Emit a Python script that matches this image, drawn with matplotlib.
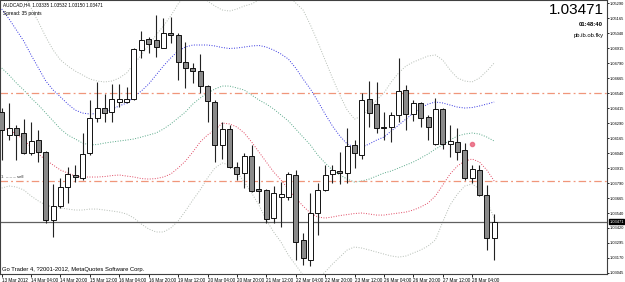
import matplotlib
matplotlib.use("Agg")
import matplotlib.pyplot as plt
import numpy as np

plt.rcParams['font.family'] = ['Liberation Sans', 'DejaVu Sans']

# AUDCAD H4 candles (open, high, low, close)
opens = [1.04384, 1.04192, 1.04250, 1.04209, 1.04042, 1.04150, 1.04050, 1.03484, 1.03600, 1.03759,
         1.03859, 1.03834, 1.04042, 1.04334, 1.04417, 1.04384, 1.04467, 1.04467, 1.04492, 1.04900,
         1.04992, 1.04984, 1.04917, 1.05042, 1.05025, 1.04800, 1.04750, 1.04725, 1.04600, 1.04467,
         1.04109, 1.04242, 1.03925, 1.03875, 1.04017, 1.03742, 1.03734, 1.03500, 1.03675, 1.03675,
         1.03859, 1.03317, 1.03150, 1.03542, 1.03734, 1.03867, 1.03892, 1.03875, 1.04109, 1.04025,
         1.04492, 1.04450, 1.04259, 1.04259, 1.04359, 1.04567, 1.04367, 1.04459, 1.04342, 1.04117,
         1.04409, 1.04117, 1.04134, 1.04067, 1.03834, 1.03900, 1.03692, 1.03335]
highs = [1.04417, 1.04459, 1.04275, 1.04326, 1.04300, 1.04234, 1.04060, 1.03784, 1.03834, 1.03925,
         1.03942, 1.04209, 1.04484, 1.04634, 1.04534, 1.04617, 1.04617, 1.04592, 1.04917, 1.05059,
         1.05009, 1.05192, 1.05167, 1.05175, 1.05042, 1.04967, 1.04792, 1.04867, 1.04609, 1.04484,
         1.04300, 1.04275, 1.03967, 1.04042, 1.04109, 1.03934, 1.03742, 1.03767, 1.03800, 1.03884,
         1.03900, 1.03375, 1.03709, 1.03792, 1.03942, 1.03942, 1.04050, 1.04250, 1.04150, 1.04542,
         1.04642, 1.04634, 1.04384, 1.04384, 1.04834, 1.04609, 1.04484, 1.04467, 1.04359, 1.04500,
         1.04417, 1.04275, 1.04250, 1.04125, 1.03942, 1.03942, 1.03775, 1.03532]
lows = [1.03984, 1.04150, 1.03984, 1.04034, 1.04025, 1.03967, 1.03459, 1.03342, 1.03584, 1.03625,
        1.03800, 1.03817, 1.04025, 1.04300, 1.04300, 1.04300, 1.04425, 1.04459, 1.04484, 1.04834,
        1.04875, 1.04842, 1.04917, 1.04959, 1.04650, 1.04584, 1.04625, 1.04542, 1.04300, 1.03967,
        1.03992, 1.03917, 1.03817, 1.03750, 1.03717, 1.03625, 1.03459, 1.03459, 1.03425, 1.03650,
        1.03150, 1.03109, 1.03100, 1.03359, 1.03725, 1.03792, 1.03784, 1.03792, 1.03917, 1.03992,
        1.04259, 1.04209, 1.04150, 1.04134, 1.04300, 1.04234, 1.04309, 1.04259, 1.04150, 1.04109,
        1.04075, 1.04009, 1.03984, 1.03817, 1.03792, 1.03684, 1.03234, 1.03150]
closes = [1.04234, 1.04250, 1.04192, 1.04042, 1.04142, 1.04050, 1.03484, 1.03600, 1.03759, 1.03867,
          1.03842, 1.04034, 1.04334, 1.04417, 1.04375, 1.04492, 1.04492, 1.04492, 1.04909, 1.04984,
          1.04950, 1.04925, 1.05042, 1.05025, 1.04800, 1.04750, 1.04725, 1.04600, 1.04475, 1.04109,
          1.04242, 1.03925, 1.03867, 1.04017, 1.03725, 1.03725, 1.03492, 1.03709, 1.03700, 1.03867,
          1.03300, 1.03167, 1.03542, 1.03734, 1.03859, 1.03900, 1.03875, 1.04100, 1.04042, 1.04484,
          1.04375, 1.04250, 1.04250, 1.04359, 1.04559, 1.04367, 1.04459, 1.04334, 1.04259, 1.04409,
          1.04117, 1.04142, 1.04050, 1.03834, 1.03909, 1.03692, 1.03335, 1.03471]

# indicator bands
band_blue = [1.05242, 1.05159, 1.05067, 1.04975, 1.04859, 1.04750, 1.04642, 1.04567, 1.04509, 1.04450,
             1.04400, 1.04375, 1.04367, 1.04371, 1.04384, 1.04409, 1.04434, 1.04459, 1.04509, 1.04559,
             1.04617, 1.04692, 1.04767, 1.04834, 1.04892, 1.04925, 1.04942, 1.04942, 1.04942, 1.04934,
             1.04921, 1.04913, 1.04917, 1.04925, 1.04934, 1.04938, 1.04925, 1.04900, 1.04867, 1.04825,
             1.04750, 1.04659, 1.04575, 1.04475, 1.04367, 1.04267, 1.04184, 1.04117, 1.04092, 1.04092,
             1.04117, 1.04150, 1.04175, 1.04225, 1.04275, 1.04325, 1.04375, 1.04417, 1.04450, 1.04467,
             1.04459, 1.04442, 1.04425, 1.04417, 1.04421, 1.04434, 1.04450, 1.04467]
band_green = [1.04750, 1.04692, 1.04625, 1.04567, 1.04500, 1.04442, 1.04375, 1.04309, 1.04242, 1.04192,
              1.04159, 1.04125, 1.04109, 1.04113, 1.04125, 1.04134, 1.04142, 1.04150, 1.04159, 1.04175,
              1.04192, 1.04209, 1.04242, 1.04284, 1.04334, 1.04384, 1.04450, 1.04500, 1.04542, 1.04575,
              1.04600, 1.04600, 1.04584, 1.04567, 1.04525, 1.04484, 1.04450, 1.04409, 1.04359, 1.04309,
              1.04242, 1.04175, 1.04109, 1.04025, 1.03959, 1.03900, 1.03859, 1.03825, 1.03800, 1.03809,
              1.03825, 1.03850, 1.03875, 1.03892, 1.03917, 1.03942, 1.03967, 1.04000, 1.04034, 1.04075,
              1.04109, 1.04150, 1.04184, 1.04200, 1.04209, 1.04200, 1.04175, 1.04142]
band_red = [1.04259, 1.04234, 1.04200, 1.04150, 1.04092, 1.04034, 1.03984, 1.03942, 1.03900, 1.03875,
            1.03850, 1.03842, 1.03842, 1.03842, 1.03846, 1.03854, 1.03859, 1.03850, 1.03842, 1.03829,
            1.03825, 1.03829, 1.03842, 1.03867, 1.03917, 1.03975, 1.04050, 1.04134, 1.04192, 1.04234,
            1.04292, 1.04284, 1.04259, 1.04209, 1.04134, 1.04050, 1.03967, 1.03884, 1.03817, 1.03742,
            1.03667, 1.03600, 1.03542, 1.03509, 1.03500, 1.03509, 1.03521, 1.03529, 1.03538, 1.03542,
            1.03534, 1.03525, 1.03525, 1.03534, 1.03542, 1.03550, 1.03567, 1.03592, 1.03625, 1.03684,
            1.03775, 1.03867, 1.03934, 1.03975, 1.03992, 1.03967, 1.03900, 1.03809]
band_upper = [1.05692, 1.05584, 1.05484, 1.05375, 1.05250, 1.05134, 1.05009, 1.04900, 1.04817, 1.04767,
              1.04725, 1.04692, 1.04659, 1.04642, 1.04634, 1.04642, 1.04667, 1.04709, 1.04784, 1.04859,
              1.04942, 1.05025, 1.05100, 1.05184, 1.05284, 1.05359, 1.05384, 1.05359, 1.05309, 1.05267,
              1.05234, 1.05225, 1.05242, 1.05267, 1.05284, 1.05317, 1.05367, 1.05400, 1.05400, 1.05359,
              1.05292, 1.05234, 1.05109, 1.04967, 1.04817, 1.04667, 1.04525, 1.04400, 1.04325, 1.04350,
              1.04417, 1.04484, 1.04542, 1.04634, 1.04709, 1.04767, 1.04800, 1.04825, 1.04850, 1.04859,
              1.04817, 1.04734, 1.04667, 1.04642, 1.04634, 1.04667, 1.04725, 1.04792]
band_lower = [1.03750, 1.03767, 1.03759, 1.03734, 1.03684, 1.03642, 1.03609, 1.03592, 1.03584, 1.03575,
              1.03567, 1.03567, 1.03575, 1.03575, 1.03567, 1.03559, 1.03550, 1.03534, 1.03500, 1.03450,
              1.03409, 1.03384, 1.03384, 1.03417, 1.03475, 1.03559, 1.03650, 1.03734, 1.03834, 1.03917,
              1.03959, 1.03942, 1.03884, 1.03800, 1.03709, 1.03609, 1.03484, 1.03384, 1.03300, 1.03192,
              1.03109, 1.03025, 1.02984, 1.03000, 1.03050, 1.03117, 1.03175, 1.03234, 1.03259, 1.03250,
              1.03234, 1.03217, 1.03200, 1.03184, 1.03175, 1.03184, 1.03209, 1.03234, 1.03267, 1.03317,
              1.03467, 1.03609, 1.03700, 1.03767, 1.03784, 1.03742, 1.03642, 1.03500]

level_lines = [1.04542, 1.03809]
last_price = 1.03471

ytick_vals = [1.05290, 1.05165, 1.05040, 1.04915, 1.04790, 1.04665, 1.04540, 1.04415, 1.04290, 1.04165,
              1.04040, 1.03915, 1.03790, 1.03665, 1.03540, 1.03420, 1.03295, 1.03170, 1.03045]
xtick_labels = ["13 Mar 2012", "14 Mar 04:00", "14 Mar 20:00", "15 Mar 12:00", "16 Mar 04:00",
                "16 Mar 20:00", "19 Mar 12:00", "20 Mar 04:00", "20 Mar 20:00", "21 Mar 12:00",
                "22 Mar 04:00", "22 Mar 20:00", "23 Mar 12:00", "26 Mar 04:00", "26 Mar 20:00",
                "27 Mar 12:00", "28 Mar 04:00"]

W, H = 625, 282
fig = plt.figure(figsize=(W / 100, H / 100), dpi=100)
ax = fig.add_axes([0.0, 8 / H, 607 / W, 274 / H])

n = len(opens)
idx = np.arange(n)

# bands (dotted)
dots = (0, (1, 1.6))
ax.plot(idx, band_upper, color='#b4bcb4', lw=0.7, ls=dots)
ax.plot(idx, band_lower, color='#b4bcb4', lw=0.7, ls=dots)
ax.plot(idx, band_blue, color='#3434e0', lw=0.7, ls=dots)
ax.plot(idx, band_green, color='#58a888', lw=0.7, ls=dots)
ax.plot(idx, band_red, color='#e04862', lw=0.7, ls=dots)

# horizontal levels
for lv in level_lines:
    ax.axhline(lv, color='#f0967a', lw=0.9, ls=(0, (6, 2.5, 1.5, 2.5)))
ax.axhline(last_price, color='#606060', lw=0.9)

# candles
o = np.array(opens)
c = np.array(closes)
ax.vlines(idx, lows, highs, color='#222222', lw=0.8, zorder=3)
bottoms = np.minimum(o, c)
heights = np.maximum(np.abs(c - o), 0.000015)
fills = ['#ffffff' if cc >= oo else '#8a8a8a' for oo, cc in zip(o, c)]
ax.bar(idx, heights, bottom=bottoms, width=0.68, color=fills, edgecolor='#111111',
       linewidth=0.7, zorder=4)

# signal marker and trade label
ax.plot([64], [1.04117], marker='o', ms=3, color='#e8607a', alpha=0.8, zorder=5)
ax.text(-0.1, 1.03840, "1  \u2013 \u2013 \u2013 sell", fontsize=3.2, color='#333333',
        va='center', ha='left')

ax.set_xlim(-0.23, 82.35)
ax.set_ylim(1.03034, 1.05317)

ax.yaxis.tick_right()
ax.set_yticks(ytick_vals)
ax.set_yticklabels([f"{v:.5f}" for v in ytick_vals])
ax.tick_params(axis='y', labelsize=2.9, length=1.5, width=0.6, pad=0.8, colors='#000000')

ax.set_xticks(np.arange(0, 4 * len(xtick_labels), 4))
ax.set_xticklabels(xtick_labels, ha='left')
ax.tick_params(axis='x', labelsize=3.3, length=2, width=0.6, pad=1)

for sp in ax.spines.values():
    sp.set_color('#404040')
    sp.set_linewidth(0.8)

# current price box on the price scale
ax.text(1.004, last_price, "1.03471", transform=ax.get_yaxis_transform(), fontsize=2.9,
        color='white', va='center', ha='left',
        bbox=dict(boxstyle='square,pad=0.12', fc='black', ec='black'), clip_on=False)

# chart captions
fig.text(3 / W, 1 - 5 / H, "AUDCAD,H4  1.03335 1.03532 1.03150 1.03471", fontsize=3.3,
         va='center', ha='left')
fig.text(3 / W, 1 - 13 / H, "Spread: 35 points", fontsize=3.5, va='center', ha='left')
fig.text(604 / W, 1 - 10 / H, "1.03471", fontsize=11, va='center', ha='right')
fig.text(603 / W, 1 - 25 / H, "01:48:40", fontsize=4.2, fontweight='bold', va='center', ha='right')
fig.text(604 / W, 1 - 36 / H, "pb.ib.ob.fky", fontsize=4.2, va='center', ha='right')
fig.text(2 / W, 1 - 269 / H, "Go Trader 4, ?2001-2012, MetaQuotes Software Corp.", fontsize=4.2,
         va='center', ha='left')

fig.savefig("out.png", dpi=100)
